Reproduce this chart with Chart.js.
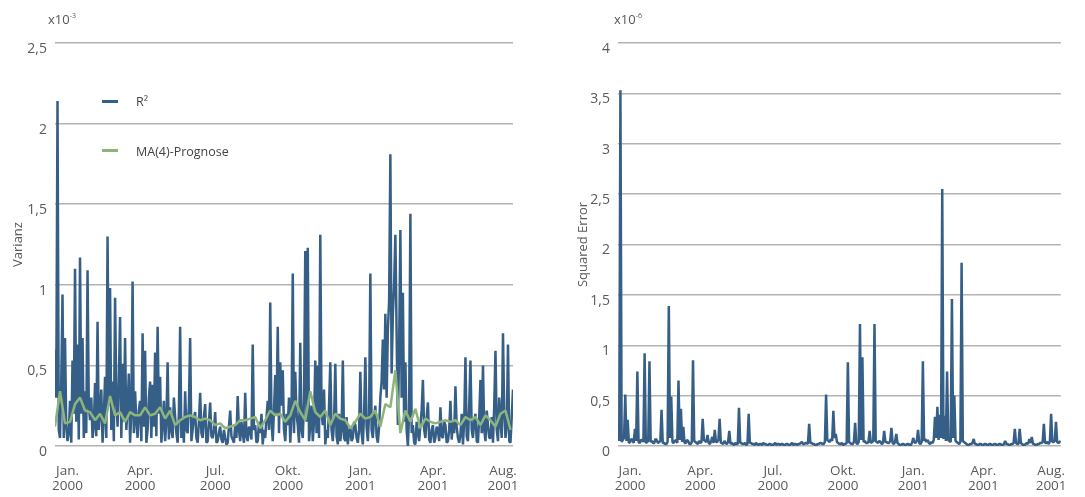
<!DOCTYPE html>
<html>
<head>
<meta charset="utf-8">
<script src="https://cdn.jsdelivr.net/npm/chart.js@4/dist/chart.umd.min.js"></script>
<style>
  body { margin: 0; background: #fff; width: 1085px; height: 497px; overflow: hidden; position: relative; font-family: 'Open Sans', sans-serif; color: #555; }
  .box { position: absolute; top: 0; }
  .exp { position: absolute; top: 10px; font-size: 13px; color: #555; }
  .exp sup { font-size: 7px; vertical-align: top; position: relative; top: 1px; }
  .leg { position: absolute; font-size: 12.5px; color: #444; line-height: 17px; white-space: nowrap; }
  .leg i { position: absolute; left: -34px; width: 16px; height: 3px; }
</style>
</head>
<body>

<div class="box" style="left:0;width:540px;height:497px"><canvas id="chartLeft" width="540" height="497"></canvas></div>
<div class="box" style="left:540px;width:545px;height:497px"><canvas id="chartRight" width="545" height="497"></canvas></div>

<div class="exp" style="left:48px">x10<sup>-3</sup></div>
<div class="exp" style="left:614px">x10<sup>-6</sup></div>

<div class="leg" style="left:136px;top:93px"><i style="top:7px;background:#365f87"></i>R²</div>
<div class="leg" style="left:136px;top:143px"><i style="top:6px;background:#8db57b"></i>MA(4)-Prognose</div>

<script>
// x axis: trading days (index = day)
var tickPos = [10, 68, 128, 186, 244, 302, 358];
var tickLabels = [['Jan.', '2000'], ['Apr.', '2000'], ['Jul.', '2000'], ['Okt.', '2000'],
                  ['Jan.', '2001'], ['Apr.', '2001'], ['Aug.', '2001']];

// Varianz, x10^-3, daily
var r2 = [
  0.60, 0.30, 2.14, 0.10, 0.05, 0.40, 0.94, 0.05, 0.67, 0.12,
  0.03, 0.08, 0.28, 0.02, 0.53, 0.20, 1.10, 0.15, 0.63, 0.04,
  1.17, 0.20, 0.67, 0.05, 0.34, 0.08, 1.09, 0.25, 0.16, 0.30,
  0.05, 0.12, 0.39, 0.06, 0.77, 0.10, 0.22, 0.35, 0.02, 0.18,
  0.43, 0.05, 1.30, 0.25, 0.98, 0.10, 0.40, 0.03, 0.92, 0.30,
  0.12, 0.40, 0.80, 0.05, 0.51, 0.15, 0.67, 0.10, 0.24, 0.45,
  0.02, 0.20, 1.02, 0.08, 0.34, 0.15, 0.05, 0.22, 0.28, 0.03,
  0.70, 0.12, 0.59, 0.02, 0.10, 0.30, 0.40, 0.05, 0.38, 0.12,
  0.58, 0.06, 0.74, 0.20, 0.43, 0.02, 0.13, 0.28, 0.03, 0.15,
  0.52, 0.04, 0.24, 0.10, 0.05, 0.30, 0.18, 0.08, 0.02, 0.20,
  0.74, 0.05, 0.18, 0.02, 0.34, 0.10, 0.08, 0.25, 0.67, 0.03,
  0.10, 0.18, 0.21, 0.05, 0.02, 0.15, 0.33, 0.08, 0.05, 0.18,
  0.26, 0.02, 0.03, 0.15, 0.27, 0.06, 0.05, 0.10, 0.21, 0.02,
  0.03, 0.08, 0.12, 0.04, 0.02, 0.10, 0.05, 0.01, 0.02, 0.12,
  0.22, 0.06, 0.04, 0.02, 0.13, 0.05, 0.31, 0.10, 0.03, 0.15,
  0.08, 0.02, 0.33, 0.06, 0.03, 0.12, 0.10, 0.04, 0.63, 0.10,
  0.13, 0.02, 0.03, 0.15, 0.08, 0.20, 0.01, 0.10, 0.05, 0.18,
  0.28, 0.10, 0.89, 0.15, 0.03, 0.22, 0.44, 0.20, 0.74, 0.08,
  0.52, 0.25, 0.47, 0.10, 0.03, 0.20, 0.13, 0.30, 0.02, 0.18,
  1.07, 0.08, 0.46, 0.20, 0.13, 0.02, 0.64, 0.10, 0.05, 0.30,
  1.21, 0.15, 1.23, 0.03, 0.13, 0.25, 0.03, 0.15, 0.53, 0.08,
  0.50, 0.05, 1.31, 0.20, 0.13, 0.35, 0.01, 0.10, 0.05, 0.25,
  0.52, 0.10, 0.03, 0.15, 0.51, 0.06, 0.01, 0.20, 0.03, 0.10,
  0.53, 0.05, 0.03, 0.18, 0.01, 0.08, 0.12, 0.03, 0.05, 0.15,
  0.13, 0.05, 0.02, 0.10, 0.46, 0.08, 0.01, 0.20, 0.55, 0.12,
  0.03, 0.20, 1.07, 0.10, 0.05, 0.18, 0.25, 0.06, 0.02, 0.12,
  0.30, 0.40, 0.66, 0.35, 0.82, 0.30, 0.72, 0.90, 1.81, 0.45,
  0.82, 1.00, 1.31, 0.70, 0.13, 0.60, 1.34, 0.30, 0.95, 0.15,
  0.52, 0.10, 0.00, 0.20, 1.44, 0.08, 0.13, 0.02, 0.01, 0.15,
  0.08, 0.03, 0.13, 0.22, 0.41, 0.10, 0.05, 0.18, 0.27, 0.04,
  0.02, 0.10, 0.13, 0.02, 0.05, 0.12, 0.10, 0.03, 0.24, 0.06,
  0.05, 0.15, 0.13, 0.02, 0.03, 0.10, 0.28, 0.04, 0.15, 0.08,
  0.37, 0.12, 0.05, 0.02, 0.07, 0.20, 0.01, 0.15, 0.55, 0.06,
  0.03, 0.25, 0.53, 0.10, 0.05, 0.15, 0.20, 0.03, 0.02, 0.18,
  0.41, 0.08, 0.50, 0.10, 0.03, 0.22, 0.13, 0.05, 0.05, 0.18,
  0.02, 0.25, 0.59, 0.10, 0.03, 0.30, 0.15, 0.05, 0.70, 0.20,
  0.05, 0.12, 0.63, 0.03, 0.02, 0.18, 0.35
];

// MA(4)-Prognose, one value every fourth day
var maPrognose = [
  0.12, 0.34, 0.14, 0.15, 0.26, 0.30, 0.22, 0.21, 0.16, 0.20,
  0.14, 0.31, 0.19, 0.21, 0.15, 0.21, 0.19, 0.19, 0.24, 0.19,
  0.20, 0.24, 0.17, 0.22, 0.13, 0.16, 0.18, 0.19, 0.18, 0.16,
  0.17, 0.16, 0.13, 0.14, 0.11, 0.12, 0.13, 0.16, 0.16, 0.17,
  0.18, 0.11, 0.16, 0.22, 0.19, 0.20, 0.15, 0.19, 0.28, 0.21,
  0.16, 0.34, 0.21, 0.18, 0.22, 0.13, 0.20, 0.17, 0.16, 0.11,
  0.15, 0.20, 0.17, 0.18, 0.22, 0.12, 0.26, 0.24, 0.47, 0.08,
  0.22, 0.15, 0.23, 0.11, 0.17, 0.15, 0.14, 0.15, 0.16, 0.15,
  0.16, 0.13, 0.18, 0.16, 0.18, 0.13, 0.19, 0.16, 0.12, 0.20,
  0.22, 0.10
];

// Squared Error, x10^-6, daily
var sqError = [
  0.24, 0.05, 3.53, 0.04, 0.06, 0.08, 0.51, 0.05, 0.26, 0.03,
  0.04, 0.07, 0.06, 0.03, 0.17, 0.05, 0.74, 0.04, 0.03, 0.06,
  0.06, 0.04, 0.92, 0.03, 0.04, 0.05, 0.84, 0.04, 0.05, 0.03,
  0.03, 0.07, 0.06, 0.03, 0.04, 0.05, 0.36, 0.03, 0.03, 0.02,
  0.02, 0.04, 1.39, 0.08, 0.49, 0.04, 0.03, 0.05, 0.06, 0.03,
  0.65, 0.06, 0.37, 0.04, 0.19, 0.03, 0.03, 0.06, 0.05, 0.02,
  0.02, 0.04, 0.85, 0.05, 0.04, 0.03, 0.02, 0.05, 0.03, 0.04,
  0.27, 0.06, 0.05, 0.04, 0.11, 0.03, 0.02, 0.05, 0.09, 0.03,
  0.16, 0.04, 0.04, 0.06, 0.27, 0.03, 0.03, 0.02, 0.05, 0.03,
  0.02, 0.04, 0.15, 0.02, 0.03, 0.02, 0.01, 0.03, 0.02, 0.02,
  0.38, 0.03, 0.03, 0.02, 0.02, 0.03, 0.01, 0.02, 0.32, 0.03,
  0.03, 0.02, 0.02, 0.01, 0.03, 0.02, 0.01, 0.02, 0.02, 0.01,
  0.03, 0.02, 0.02, 0.01, 0.01, 0.02, 0.02, 0.01, 0.01, 0.02,
  0.03, 0.01, 0.02, 0.02, 0.01, 0.02, 0.02, 0.01, 0.01, 0.02,
  0.02, 0.01, 0.01, 0.02, 0.03, 0.01, 0.02, 0.02, 0.01, 0.02,
  0.02, 0.03, 0.04, 0.02, 0.02, 0.03, 0.03, 0.02, 0.22, 0.03,
  0.03, 0.02, 0.02, 0.01, 0.01, 0.02, 0.02, 0.03, 0.03, 0.02,
  0.02, 0.04, 0.51, 0.06, 0.05, 0.04, 0.07, 0.05, 0.35, 0.08,
  0.12, 0.04, 0.03, 0.02, 0.02, 0.03, 0.01, 0.02, 0.02, 0.03,
  0.83, 0.04, 0.03, 0.02, 0.02, 0.04, 0.23, 0.03, 0.02, 0.04,
  1.21, 0.06, 0.88, 0.04, 0.05, 0.03, 0.03, 0.04, 0.15, 0.03,
  0.04, 0.05, 1.21, 0.05, 0.04, 0.03, 0.05, 0.04, 0.02, 0.03,
  0.15, 0.04, 0.04, 0.03, 0.03, 0.05, 0.18, 0.03, 0.02, 0.04,
  0.12, 0.03, 0.02, 0.01, 0.01, 0.02, 0.02, 0.01, 0.01, 0.02,
  0.02, 0.01, 0.01, 0.03, 0.08, 0.04, 0.03, 0.05, 0.16, 0.03,
  0.02, 0.04, 0.84, 0.05, 0.07, 0.04, 0.06, 0.03, 0.02, 0.04,
  0.03, 0.06, 0.29, 0.08, 0.39, 0.06, 0.31, 0.08, 2.55, 0.07,
  0.30, 0.05, 0.74, 0.06, 0.05, 0.04, 1.46, 0.08, 0.50, 0.05,
  0.04, 0.03, 0.02, 0.04, 1.82, 0.05, 0.04, 0.03, 0.02, 0.01,
  0.01, 0.02, 0.02, 0.03, 0.07, 0.02, 0.02, 0.01, 0.01, 0.02,
  0.02, 0.01, 0.01, 0.02, 0.02, 0.01, 0.01, 0.02, 0.02, 0.01,
  0.01, 0.02, 0.02, 0.01, 0.01, 0.02, 0.02, 0.01, 0.01, 0.02,
  0.05, 0.02, 0.02, 0.01, 0.01, 0.02, 0.02, 0.03, 0.17, 0.03,
  0.02, 0.02, 0.17, 0.03, 0.02, 0.01, 0.01, 0.02, 0.03, 0.02,
  0.07, 0.03, 0.09, 0.02, 0.02, 0.01, 0.01, 0.02, 0.02, 0.03,
  0.03, 0.04, 0.22, 0.03, 0.03, 0.04, 0.02, 0.05, 0.32, 0.04,
  0.04, 0.05, 0.24, 0.04, 0.03, 0.04, 0.05
];

var blue = '#365f87';
var green = '#8db57b';
var textColor = '#5a5a5a';

function lineSet(values, step, color, width, order) {
    return {
        data: values.map(function (v, i) { return { x: i * step, y: v }; }),
        borderColor: color,
        borderWidth: width,
        borderJoinStyle: 'bevel',
        pointRadius: 0,
        tension: 0,
        order: order
    };
}

function makeChart(id, datasets, yMax, yTitle, yWidth, titlePad, padRight) {
    var ctx = document.getElementById(id).getContext('2d');
    return new Chart(ctx, {
        type: 'line',
        data: { datasets: datasets },
        options: {
            responsive: false,
            animation: false,
            layout: { padding: { top: 43, right: padRight, bottom: 0, left: 0 } },
            plugins: { legend: { display: false }, tooltip: { enabled: false } },
            scales: {
                x: {
                    type: 'linear',
                    min: 0,
                    max: r2.length - 1,
                    grid: { display: false, drawTicks: false },
                    border: { display: false },
                    afterBuildTicks: function (axis) {
                        axis.ticks = tickPos.map(function (v) { return { value: v }; });
                    },
                    afterFit: function (scale) { scale.height = 51; },
                    ticks: {
                        autoSkip: false,
                        maxRotation: 0,
                        padding: 18,
                        color: textColor,
                        font: { family: "'Open Sans', sans-serif", size: 13.5, lineHeight: 1.1 },
                        callback: function (value) { return tickLabels[tickPos.indexOf(value)]; }
                    }
                },
                y: {
                    min: 0,
                    max: yMax,
                    grid: { color: '#b3b3b3', lineWidth: 1.5, drawTicks: false },
                    border: { display: false },
                    afterFit: function (scale) { scale.width = yWidth; },
                    title: {
                        display: true,
                        text: yTitle,
                        color: textColor,
                        padding: { top: titlePad, bottom: 0 },
                        font: { family: "'Open Sans', sans-serif", size: 13 }
                    },
                    ticks: {
                        stepSize: 0.5,
                        padding: 8,
                        labelOffset: 6,
                        color: textColor,
                        font: { family: "'Open Sans', sans-serif", size: 14 },
                        callback: function (value) { return String(value).replace('.', ','); }
                    }
                }
            }
        }
    });
}

makeChart('chartLeft', [lineSet(r2, 1, blue, 2.5, 2), lineSet(maPrognose, 4, green, 2.5, 1)],
          2.5, 'Varianz', 55, 10, 27);
makeChart('chartRight', [lineSet(sqError, 1, blue, 2.5, 1)],
          4, 'Squared Error', 78, 35, 20);
</script>
</body>
</html>
